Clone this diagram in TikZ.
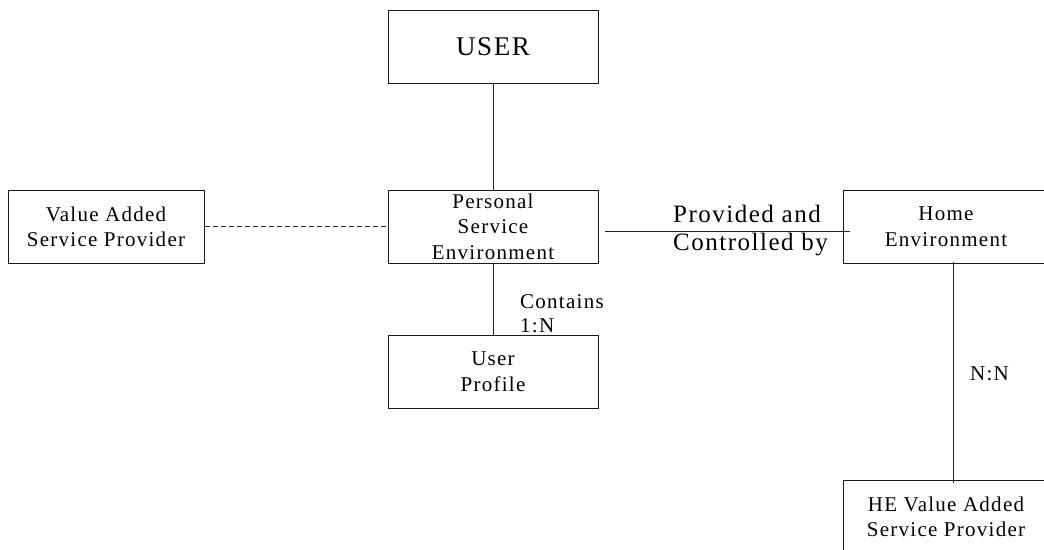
\documentclass[tikz,border=0pt]{standalone}
\usepackage{fontspec}
\setmainfont{Liberation Serif}[LetterSpace=6]
\usetikzlibrary{calc}
\definecolor{BoxClr}{rgb}{0.1,0.1,0.1}
\definecolor{LinkClr}{rgb}{0.15,0.15,0.15}

\begin{document}
\begin{tikzpicture}[x=1pt,y=-1pt,
  entity/.style={draw=BoxClr,line width=1pt,minimum width=210pt,minimum height=73pt,
    inner sep=0pt,text depth=-5pt,align=center,font=\fontsize{21}{25.5}\selectfont},
  link/.style={draw=LinkClr,line width=1pt},
  tag/.style={inner sep=0pt,align=left,font=\fontsize{21}{24}\selectfont}]

\useasboundingbox (0,0) rectangle (1044,549);

\node[entity,text depth=0pt] (user) at (493,46.5) {\fontsize{27}{30}\selectfont USER};
\node[entity] (pse) at (493,226.5) {Personal\\Service\\Environment};
\node[entity,minimum width=196pt] (vasp) at (106,226.5) {Value Added\\Service Provider};
\node[entity] (profile) at (493,371.5) {User\\Profile};
\node[entity,minimum width=206pt] (home) at (946,226.5) {Home\\Environment};
\node[entity,minimum width=206pt] (hevasp) at (946,516.5) {HE Value Added\\Service Provider};

\draw[link] (user) -- (pse);
\draw[link] (pse) -- (profile);
\draw[link,dashed,dash pattern=on 5pt off 3pt] (vasp) -- (pse);
\draw[link,shorten <=6pt,shorten >=-7pt] ([yshift=-4.5pt]pse.east) -- ([yshift=-4.5pt]home.west);
\draw[link,shorten <=-2pt,shorten >=-3pt] ([xshift=7pt]home.south) -- ([xshift=7pt]hevasp.north);

\node[tag,anchor=north west] (contains) at (520,294.7) {Contains\\1:N};
\node[tag,anchor=north west,font=\fontsize{25}{28}\selectfont] (provided) at (673,205) {Provided and\\Controlled by};
\node[tag,anchor=base west] (nn) at (970,380) {N:N};

\end{tikzpicture}
\end{document}
